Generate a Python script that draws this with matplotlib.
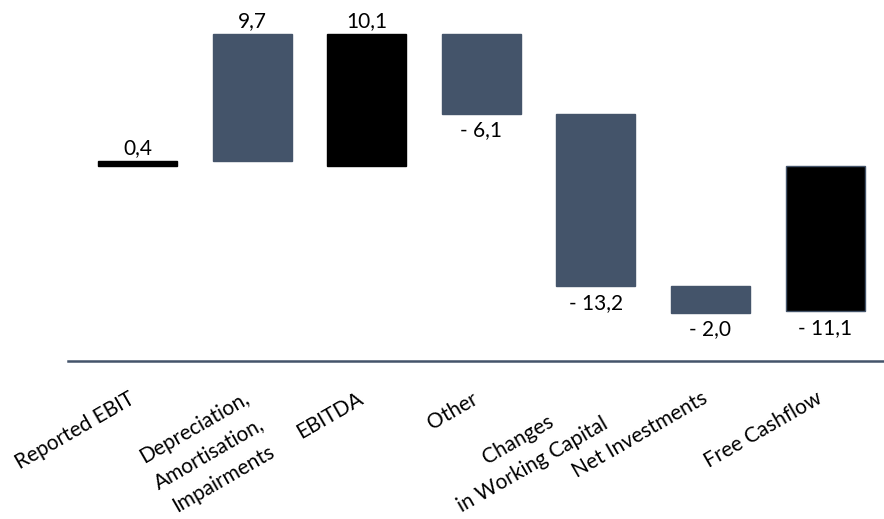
import matplotlib
matplotlib.use("Agg")
import numpy as np
import matplotlib.pyplot as plt
from matplotlib.transforms import ScaledTranslation

categories = [
    "Reported EBIT",
    "Depreciation,\nAmortisation,\nImpairments",
    "EBITDA",
    "Other",
    "Changes\nin Working Capital",
    "Net Investments",
    "Free Cashflow",
]
values = [0.4, 9.7, 10.1, -6.1, -13.2, -2.0, -11.1]
# "total" bars start at zero, "delta" bars continue from the running total
kinds = ["total", "delta", "total", "delta", "delta", "delta", "total"]

SLATE = "#44546A"
plt.rcParams["font.family"] = ["Lato", "DejaVu Sans"]

DPI = 100
fig = plt.figure(figsize=(8.84, 5.19), dpi=DPI)
ax = fig.add_axes([68 / 884, (519 - 361) / 519, (884 - 68) / 884, 361 / 519])

running = 0.0
for i, (v, k) in enumerate(zip(values, kinds)):
    if k == "total":
        bottom = 0.0
        running = v
        color = "black"
    else:
        bottom = running
        running = running + v
        color = SLATE
    ax.bar(i, v, bottom=bottom, width=0.69, color=color,
           edgecolor=SLATE if k == "total" and i == len(values) - 1 else color,
           linewidth=1.0)
    text = f"{abs(v):.1f}".replace(".", ",")
    if v >= 0:
        ax.annotate(text, (i, bottom + v), xytext=(0, 2), textcoords="offset points",
                    ha="center", va="bottom", fontsize=15)
    else:
        ax.annotate("- " + text, (i, bottom + v), xytext=(0, -5), textcoords="offset points",
                    ha="center", va="top", fontsize=15)

ax.set_xlim(-0.606, 6.514)
ax.set_ylim(-14.9, 12.67)
for side in ["top", "right", "left"]:
    ax.spines[side].set_visible(False)
ax.spines["bottom"].set_color(SLATE)
ax.spines["bottom"].set_linewidth(1.8)
ax.set_yticks([])
ax.set_xticks([])
ax.patch.set_alpha(0)

# Slanted category labels: each line is placed on its own, centred within
# the block, the block's right edge sitting just left of the category.
ANGLE = 30.0
LABEL_SIZE = 15
RIGHT_EDGE = -22.0   # px along the slant, relative to the category position
FIRST_BASE = 35.0    # px below the axis line (perpendicular to the slant)
LINE_STEP = 29.5     # px between baselines

renderer = fig.canvas.get_renderer()
ca, sa = np.cos(np.radians(ANGLE)), np.sin(np.radians(ANGLE))
xform = ax.get_xaxis_transform()

for i, label in enumerate(categories):
    lines = label.split("\n")
    widths = []
    for line in lines:
        probe = ax.text(0, 0, line, fontsize=LABEL_SIZE)
        widths.append(probe.get_window_extent(renderer).width)
        probe.remove()
    block_w = max(widths)
    for j, line in enumerate(lines):
        u = RIGHT_EDGE - block_w / 2
        vv = FIRST_BASE + j * LINE_STEP
        dx = u * ca + vv * sa
        dy = u * sa - vv * ca
        off = ScaledTranslation(dx / DPI, dy / DPI, fig.dpi_scale_trans)
        ax.text(i, 0, line, fontsize=LABEL_SIZE, rotation=ANGLE,
                rotation_mode="anchor", ha="center", va="baseline",
                transform=xform + off, clip_on=False)

fig.savefig("out.png", dpi=DPI)
